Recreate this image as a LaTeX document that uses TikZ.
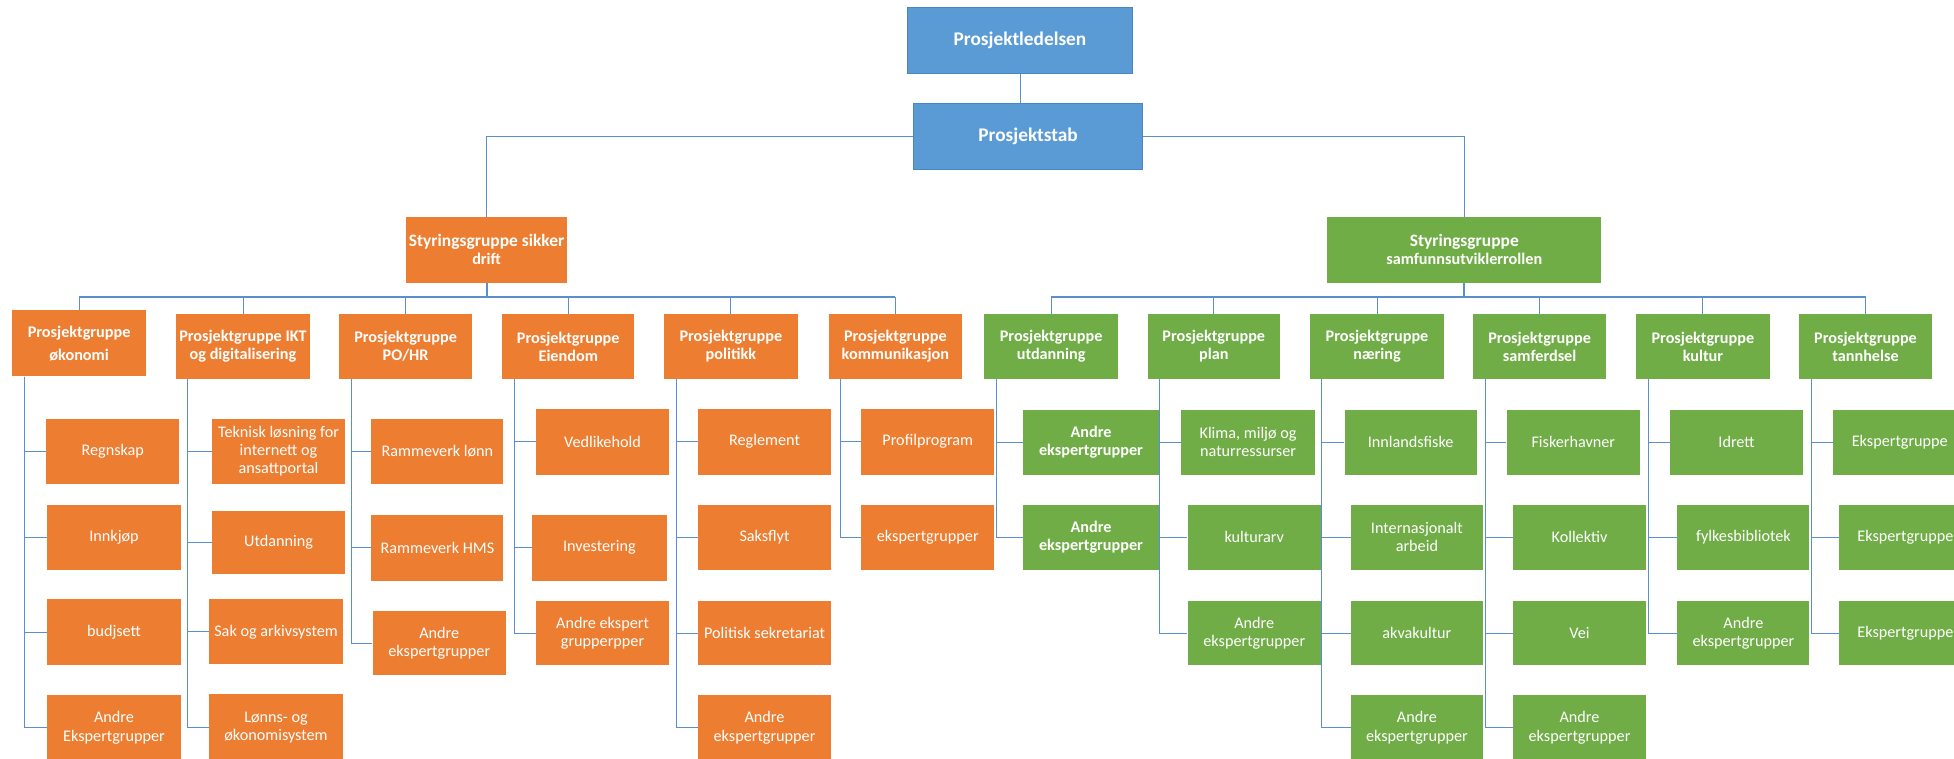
\documentclass[tikz,border=0pt]{standalone}
\usepackage{fontspec}
\setmainfont{Carlito}
\definecolor{oblue}{HTML}{5B9BD5}
\definecolor{oblueD}{HTML}{4A87C2}
\definecolor{oorange}{HTML}{ED7D31}
\definecolor{ogreen}{HTML}{70AD47}
\definecolor{lineblue}{HTML}{5B8FCB}
\newcommand\bx[7]{\node[#2, minimum width={(#5-#3)*1pt}, minimum height={(#6-#4)*1pt}] (#1) at ({(#3+#5)/2},{(#4+#6)/2}) {#7};}
\tikzset{
  box/.style={rectangle, inner sep=0pt, text=white, align=center, font=\fontsize{13}{14.5}\selectfont},
  bbox/.style={box, font=\fontsize{13}{14.5}\selectfont\bfseries},
  topbox/.style={rectangle, inner sep=0pt, text=white, align=center, fill=oblue, draw=oblueD, line width=0.6pt, font=\fontsize{15.5}{17}\selectfont\bfseries},
  orb/.style={box, fill=oorange},
  orh/.style={bbox, fill=oorange},
  grb/.style={box, fill=ogreen},
  grh/.style={bbox, fill=ogreen},
  conn/.style={draw=lineblue, line width=0.8pt},
  bus/.style={draw=lineblue, line width=1.6pt},
}
\begin{document}
\begin{tikzpicture}[x=1pt,y=-1pt]
\useasboundingbox (0,0) rectangle (1568,609);
\clip (0,0) rectangle (1568,609);
% top
\bx{led}{topbox}{728}{6}{909}{59}{Prosjektledelsen}
\bx{stab}{topbox}{733}{83}{917}{136}{Prosjektstab}
\bx{s1}{orh}{326}{174}{455}{227}{\fontsize{14}{15.5}\selectfont Styringsgruppe sikker\\drift}
\bx{s2}{grh}{1065}{174}{1285}{227}{\fontsize{14}{15.5}\selectfont Styringsgruppe\\samfunnsutviklerrollen}
% headers
\bx{h1}{orh}{10}{249}{117}{302}{Prosjektgruppe\\[4pt]økonomi}
\bx{h2}{orh}{141}{252}{249}{304}{Prosjektgruppe IKT\\og digitalisering}
\bx{h3}{orh}{272}{252}{379}{304}{Prosjektgruppe\\PO/HR}
\bx{h4}{orh}{403}{252}{509}{304}{Prosjektgruppe\\Eiendom}
\bx{h5}{orh}{533}{252}{640}{304}{Prosjektgruppe\\politikk}
\bx{h6}{orh}{665}{252}{772}{304}{Prosjektgruppe\\kommunikasjon}
\bx{h7}{grh}{790}{252}{897}{304}{Prosjektgruppe\\utdanning}
\bx{h8}{grh}{921}{252}{1027}{304}{Prosjektgruppe\\plan}
\bx{h9}{grh}{1051}{252}{1159}{304}{Prosjektgruppe\\næring}
\bx{h10}{grh}{1182}{252}{1289}{304}{Prosjektgruppe\\samferdsel}
\bx{h11}{grh}{1313}{252}{1420}{304}{Prosjektgruppe\\kultur}
\bx{h12}{grh}{1444}{252}{1550}{304}{Prosjektgruppe\\tannhelse}
% children column 1
\bx{c1a}{orb}{37}{336}{144}{388}{Regnskap}
\bx{c1b}{orb}{38}{405}{145}{457}{Innkjøp}
\bx{c1c}{orb}{38}{481}{145}{534}{budjsett}
\bx{c1d}{orb}{38}{558}{145}{610}{Andre\\Ekspertgrupper}
% column 2
\bx{c2a}{orb}{170}{336}{277}{388}{Teknisk løsning for\\internett og\\ansattportal}
\bx{c2b}{orb}{170}{410}{277}{461}{Utdanning}
\bx{c2c}{orb}{168}{481}{275}{533}{Sak og arkivsystem}
\bx{c2d}{orb}{168}{557}{275}{610}{Lønns- og\\økonomisystem}
% column 3
\bx{c3a}{orb}{298}{336}{404}{388}{Rammeverk lønn}
\bx{c3b}{orb}{298}{413}{404}{466}{Rammeverk HMS}
\bx{c3c}{orb}{299}{490}{406}{542}{Andre\\ekspertgrupper}
% column 4
\bx{c4a}{orb}{430}{328}{537}{381}{Vedlikehold}
\bx{c4b}{orb}{427}{413}{535}{466}{Investering}
\bx{c4c}{orb}{430}{482}{537}{534}{Andre ekspert\\grupperpper}
% column 5
\bx{c5a}{orb}{560}{328}{667}{381}{Reglement}
\bx{c5b}{orb}{560}{405}{667}{457}{Saksflyt}
\bx{c5c}{orb}{560}{482}{667}{534}{Politisk sekretariat}
\bx{c5d}{orb}{560}{558}{667}{610}{Andre\\ekspertgrupper}
% column 6
\bx{c6a}{orb}{691}{328}{798}{381}{Profilprogram}
\bx{c6b}{orb}{691}{405}{798}{457}{ekspertgrupper}
% column 7
\bx{c7a}{grh}{821}{329}{930}{381}{Andre\\ekspertgrupper}
\bx{c7b}{grh}{821}{405}{930}{457}{Andre\\ekspertgrupper}
% column 8
\bx{c8a}{grb}{948}{329}{1055}{381}{Klima, miljø og\\naturressurser}
\bx{c8b}{grb}{953}{405}{1060}{457}{kulturarv}
\bx{c8c}{grb}{953}{482}{1060}{534}{Andre\\ekspertgrupper}
% column 9
\bx{c9a}{grb}{1079}{329}{1185}{381}{Innlandsfiske}
\bx{c9b}{grb}{1084}{405}{1190}{457}{Internasjonalt\\arbeid}
\bx{c9c}{grb}{1084}{482}{1190}{534}{akvakultur}
\bx{c9d}{grb}{1084}{558}{1190}{610}{Andre\\ekspertgrupper}
% column 10
\bx{c10a}{grb}{1209}{329}{1316}{381}{Fiskerhavner}
\bx{c10b}{grb}{1214}{405}{1321}{457}{Kollektiv}
\bx{c10c}{grb}{1214}{482}{1321}{534}{Vei}
\bx{c10d}{grb}{1214}{558}{1321}{610}{Andre\\ekspertgrupper}
% column 11
\bx{c11a}{grb}{1340}{329}{1447}{381}{Idrett}
\bx{c11b}{grb}{1346}{405}{1452}{457}{fylkesbibliotek}
\bx{c11c}{grb}{1346}{482}{1452}{534}{Andre\\ekspertgrupper}
% column 12
\bx{c12a}{grb}{1471}{329}{1578}{381}{Ekspertgruppe}
\bx{c12b}{grb}{1476}{405}{1582}{457}{Ekspertgruppe}
\bx{c12c}{grb}{1476}{482}{1582}{534}{Ekspertgruppe}
% top connectors
\draw[conn] (led.south) -- (led.south |- stab.north);
\draw[conn] (stab.west) -| (s1.north);
\draw[conn] (stab.east) -| (s2.north);
% buses
\coordinate (bus1) at (390.5,238);
\coordinate (bus2) at (1175,238);
\draw[bus] (s1.south) -- (bus1);
\draw[bus] (s2.south) -- (bus2);
\draw[bus] (h1.north |- bus1) -- (h6.north |- bus1);
\draw[bus] (h7.north |- bus2) -- (h12.north |- bus2);
\foreach \h in {h1,h2,h3,h4,h5,h6}{\draw[conn] (\h.north |- bus1) -- (\h.north);}
\foreach \h in {h7,h8,h9,h10,h11,h12}{\draw[conn] (\h.north |- bus2) -- (\h.north);}
% child connectors
\foreach \h/\cl in {h1/{c1a,c1b,c1c,c1d}, h2/{c2a,c2b,c2c,c2d}, h3/{c3a,c3b,c3c}, h4/{c4a,c4b,c4c}, h5/{c5a,c5b,c5c,c5d}, h6/{c6a,c6b}, h7/{c7a,c7b}, h8/{c8a,c8b,c8c}, h9/{c9a,c9b,c9c,c9d}, h10/{c10a,c10b,c10c,c10d}, h11/{c11a,c11b,c11c}, h12/{c12a,c12b,c12c}}{
  \foreach \c in \cl {\draw[conn] ([xshift=10pt]\h.south west) |- (\c.west);}
}
\end{tikzpicture}
\end{document}
